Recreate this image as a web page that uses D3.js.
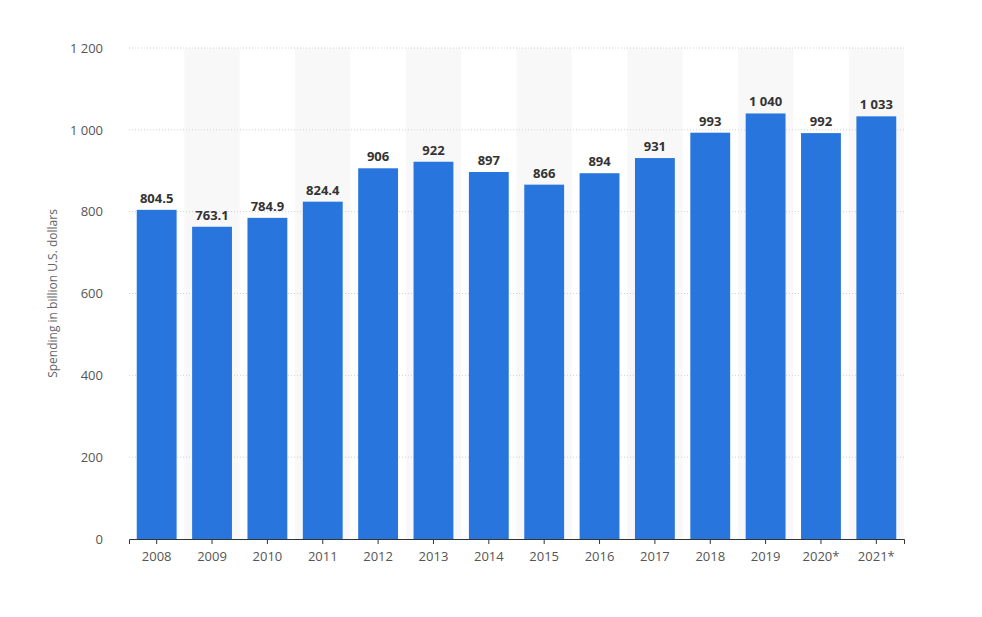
<!doctype html>
<html>
<head>
<script src="https://d3js.org/d3.v7.min.js"></script>
<style>body{margin:0;background:#fff;font-family:"Open Sans",sans-serif;}</style>
</head>
<body>
<script>
var years = ["2008","2009","2010","2011","2012","2013","2014","2015","2016","2017","2018","2019","2020*","2021*"];
var spending = [804.5,763.1,784.9,824.4,906,922,897,866,894,931,993,1040,992,1033];
var labels = ["804.5","763.1","784.9","824.4","906","922","897","866","894","931","993","1 040","992","1 033"];
var yTicks = [0,200,400,600,800,1000,1200];

var margin = {top: 48, right: 78, bottom: 78, left: 129},
    width = 982, height = 617,
    chartWidth = width - margin.left - margin.right,
    chartHeight = height - margin.top - margin.bottom;

var svg = d3.select("body").append("svg")
    .attr("width", width).attr("height", height)
  .append("g")
    .attr("transform", "translate(" + margin.left + "," + margin.top + ")");

var x = d3.scaleBand().domain(years).range([0, chartWidth]).paddingInner(0.28).paddingOuter(0.14);
var band = d3.scaleBand().domain(years).range([0, chartWidth]);
var y = d3.scaleLinear().domain([0, 1200]).range([chartHeight, 0]);

// alternating background stripes
svg.selectAll(".stripe").data(years.filter((d, i) => i % 2 == 1)).enter().append("rect")
    .attr("x", d => band(d)).attr("y", 0)
    .attr("width", band.bandwidth()).attr("height", chartHeight)
    .attr("fill", "#f8f8f8");

// gridlines
svg.selectAll(".grid").data(yTicks.slice(1)).enter().append("line")
    .attr("x1", 0).attr("x2", chartWidth)
    .attr("y1", d => y(d)).attr("y2", d => y(d))
    .attr("stroke", "#cfcfcf").attr("stroke-dasharray", "1,2");

var fmt = d => d3.format(",")(d).replace(",", " ");
var yAxis = svg.append("g").call(d3.axisLeft(y).tickValues(yTicks).tickFormat(fmt).tickSize(0).tickPadding(26));
yAxis.select(".domain").remove();
yAxis.selectAll("text").attr("font-size", 13).attr("fill", "#555").attr("font-family", "Open Sans");

svg.selectAll(".bar").data(spending).enter().append("rect")
    .attr("x", (d, i) => x(years[i])).attr("y", d => y(d))
    .attr("width", x.bandwidth()).attr("height", d => chartHeight - y(d))
    .attr("fill", "#2876dd");

svg.selectAll(".lbl").data(spending).enter().append("text")
    .attr("x", (d, i) => x(years[i]) + x.bandwidth() / 2).attr("y", d => y(d) - 7)
    .attr("text-anchor", "middle").attr("font-size", 13).attr("font-weight", "bold")
    .attr("fill", "#333").text((d, i) => labels[i]);

var xAxis = svg.append("g").attr("transform", "translate(0," + chartHeight + ")")
    .call(d3.axisBottom(band).tickSize(5).tickPadding(8));
xAxis.select(".domain").attr("stroke", "#333");
xAxis.selectAll(".tick line").attr("stroke", "#333");
xAxis.selectAll("text").attr("font-size", 13).attr("fill", "#555").attr("font-family", "Open Sans");

svg.append("text")
    .attr("transform", "translate(" + (57 - margin.left) + "," + (chartHeight / 2) + ") rotate(-90)")
    .attr("text-anchor", "middle").attr("font-size", 12).attr("fill", "#666")
    .text("Spending in billion U.S. dollars");
</script>
</body>
</html>
